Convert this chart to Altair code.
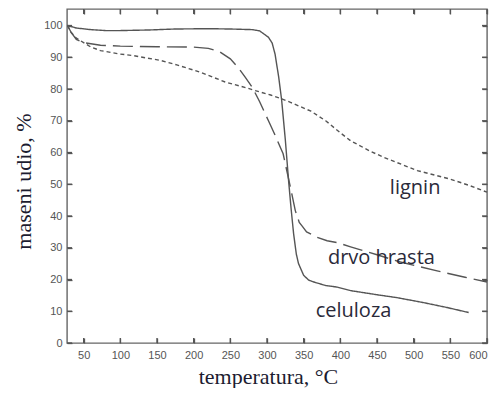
import altair as alt
import pandas as pd

# --- data ---
cel_t = [28, 40, 60, 80, 100, 140, 175, 220, 250, 280, 290, 302, 307, 311, 316, 320, 325, 329.5, 333, 336.3, 340, 343, 350, 357, 364, 380, 396, 414, 450, 477, 514, 545, 575]
cel_v = [100, 99.2, 98.7, 98.4, 98.4, 98.6, 98.9, 99, 98.9, 98.7, 98.3, 96.3, 94.5, 91, 83.7, 76.5, 64, 51, 42, 34.4, 28, 25, 21.3, 19.8, 19.2, 18.1, 17.6, 16.5, 15.2, 14.3, 12.7, 11.2, 9.6]

drvo_t = [28, 33, 40, 50, 73, 100, 150, 200, 220, 235, 250, 261, 270, 280, 290, 302, 310, 322, 332, 338.6, 344, 348, 354, 368, 382, 396, 414, 450, 482, 532, 570, 600]
drvo_v = [100, 97.8, 95.6, 94.6, 93.8, 93.5, 93.3, 93.2, 92.8, 91.8, 89.5, 86.7, 83.8, 80.5, 76, 70, 66, 59.6, 49, 41.7, 38, 36.8, 35, 33.3, 32.2, 31.6, 30.3, 27.8, 25.5, 22.7, 20.7, 19.2]

lig_t = [28, 33, 40, 45, 60, 73, 100, 118, 155, 177, 209, 243, 273, 284, 305, 320, 332, 345, 360, 380, 400, 414, 440, 459, 505, 550, 575, 600]
lig_v = [100, 97.8, 96, 95.3, 93.2, 92.1, 91, 90.5, 89, 87.6, 85.3, 82.2, 80.3, 79.5, 78.1, 76.9, 75.8, 74.5, 73, 70, 66.2, 63.7, 60.5, 58.5, 54.3, 51.6, 49.7, 47.5]

series_names = ["celuloza", "drvo hrasta", "lignin"]

label_text = ["lignin", "drvo hrasta", "celuloza"]
label_x = [502, 456, 418]
label_y = [46.8, 24.9, 8.3]

x_ticks = [50, 100, 150, 200, 250, 300, 350, 400, 450, 500, 550, 600]
y_ticks = [0, 10, 20, 30, 40, 50, 60, 70, 80, 90, 100]

X_DOMAIN = [27.3, 600]
Y_DOMAIN = [0, 105.2]
W, H = 420, 334

rows = []
for name, ts, vs in zip(series_names, [cel_t, drvo_t, lig_t], [cel_v, drvo_v, lig_v]):
    for i, (t, v) in enumerate(zip(ts, vs)):
        rows.append({"serija": name, "t": t, "m": v, "o": i})
df = pd.DataFrame(rows)
lab = pd.DataFrame({"txt": label_text, "t": label_x, "m": label_y})
xt = pd.DataFrame({"t": x_ticks})
yt = pd.DataFrame({"m": y_ticks})

xs = alt.Scale(domain=X_DOMAIN, nice=False, zero=False)
ys = alt.Scale(domain=Y_DOMAIN, nice=False, zero=False)

TICK = dict(tickSize=5, tickColor="#555", tickWidth=1.3, offset=-5, domain=False, grid=False, zindex=1)

x_axis = alt.Axis(values=x_ticks, labelPadding=6, labelOverlap=False, labelFlush=True,
                  labelFont="Liberation Sans", labelFontSize=11, labelColor="#555",
                  title="temperatura, °C", titleFont="Liberation Serif", titleFontSize=22,
                  titleFontWeight="normal", titleColor="#1c1c30", titleY=45,
                  titleBaseline="alphabetic", titleX=201, titleAlign="center", **TICK)
y_axis = alt.Axis(values=y_ticks, labelPadding=5, labelOverlap=False, labelFlush=False,
                  labelFont="Liberation Sans", labelFontSize=11, labelColor="#555",
                  title="maseni udio, %", titleFont="Liberation Serif", titleFontSize=22,
                  titleFontWeight="normal", titleColor="#1c1c30", titleAngle=-90,
                  titleX=-42, titleY=172, titleAlign="center", titleBaseline="alphabetic", **TICK)
x_top = alt.Axis(orient="top", values=x_ticks, labels=False, title=None, **TICK)
y_right = alt.Axis(orient="right", values=y_ticks, labels=False, title=None, **TICK)

lines = alt.Chart(df).mark_line(strokeWidth=1.4, color="#555").encode(
    x=alt.X("t:Q", scale=xs, axis=x_axis),
    y=alt.Y("m:Q", scale=ys, axis=y_axis),
    order="o:Q",
    detail="serija:N",
    strokeDash=alt.StrokeDash("serija:N", legend=None,
                              scale=alt.Scale(domain=series_names, range=[[1, 0], [20, 7], [4, 3]])),
)

texts = alt.Chart(lab).mark_text(font="Open Sans", fontSize=20, color="#2a2a3a",
                                 align="center", baseline="alphabetic").encode(
    x=alt.X("t:Q", scale=xs, axis=x_top), y=alt.Y("m:Q", scale=ys, axis=y_right), text="txt:N")

tick_style = dict(color="#555", strokeWidth=1.3)
xb = alt.Chart(xt).mark_rule(**tick_style).encode(
    x=alt.X("t:Q", scale=xs, axis=None), y=alt.value(H), y2=alt.value(H - 5))
xtp = alt.Chart(xt).mark_rule(**tick_style).encode(
    x=alt.X("t:Q", scale=xs, axis=None), y=alt.value(0), y2=alt.value(5))
yl = alt.Chart(yt).mark_rule(**tick_style).encode(
    y=alt.Y("m:Q", scale=ys, axis=None), x=alt.value(0), x2=alt.value(5))
yr = alt.Chart(yt).mark_rule(**tick_style).encode(
    y=alt.Y("m:Q", scale=ys, axis=None), x=alt.value(W), x2=alt.value(W - 5))

chart = alt.layer(lines, texts, xb, xtp, yl, yr).resolve_axis(
    x="independent", y="independent"
).properties(
    width=W, height=H,
    autosize=alt.AutoSizeParams(type="none"),
    padding={"left": 59, "top": 1, "right": 3, "bottom": 45},
    background="white",
).configure_view(stroke="#666", strokeWidth=1.4)

chart.save("out.html", embed_options={"renderer": "svg", "actions": False})
